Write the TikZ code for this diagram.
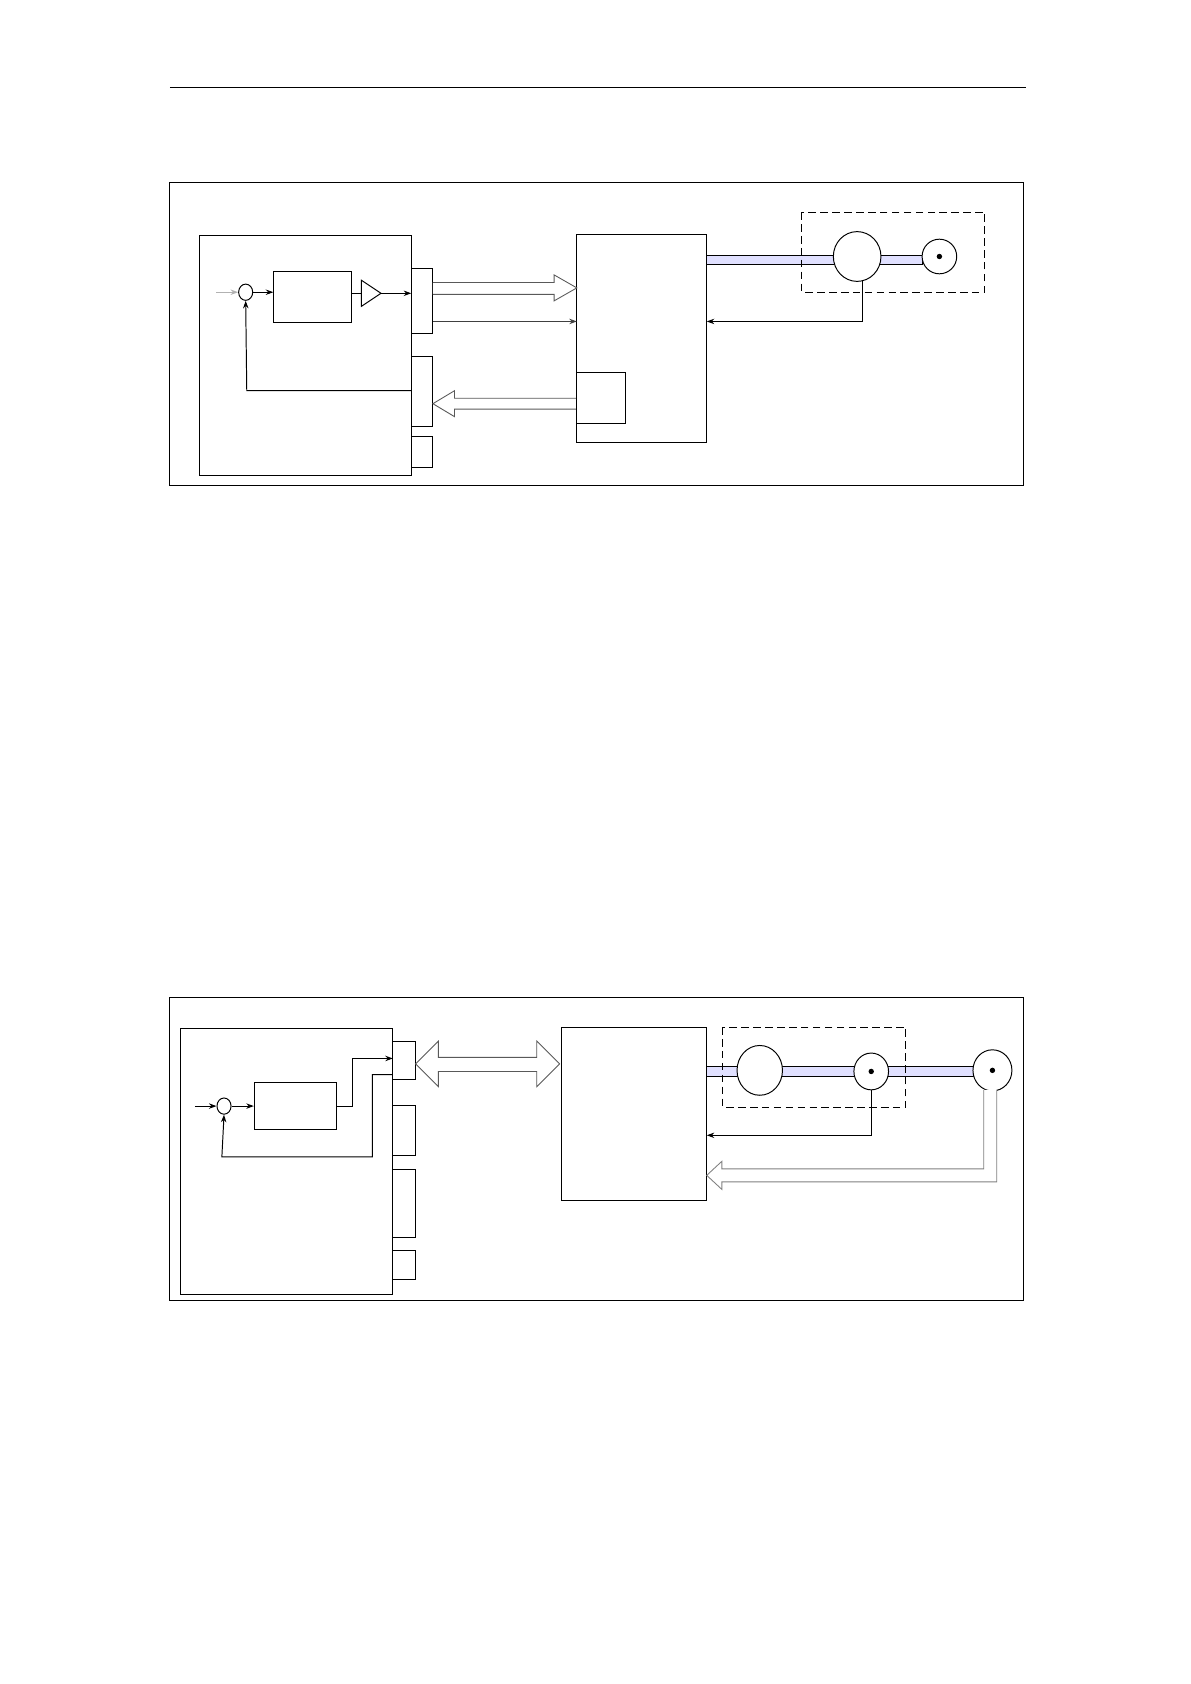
\documentclass[tikz,border=0pt]{standalone}
\usetikzlibrary{arrows.meta,calc,shapes.geometric}
\tikzset{
  blk/.style={draw,line width=0.9pt,inner sep=0pt},
  sig/.style={-{Stealth[length=7pt,width=5pt]},line width=0.9pt},
  shaft/.style={draw,fill=blue!12,line width=0.9pt},
  hollow/.style={draw=black!65,fill=white,line width=0.8pt},
  frm/.style={dash pattern=on 7pt off 4pt,line width=0.9pt},
}
\begin{document}
\begin{tikzpicture}[x=1pt,y=-1pt]
\useasboundingbox (0,0) rectangle (1100,1556);
\draw[line width=0.6pt] (157,81) -- (948,81);

% upper picture
\draw[line width=1pt] (157,169) rectangle (946,449);
\draw[blk] (184,218) rectangle (380,439);
\draw[blk] (380,248) rectangle (400,308);
\draw[blk] (380,329) rectangle (400,394);
\draw[blk] (380,403) rectangle (400,432);
\node[draw,ellipse,minimum width=13pt,minimum height=15pt,inner sep=0pt,line width=0.9pt] (sumA) at (227,270) {};
\node[blk,minimum width=72pt,minimum height=47pt] (ctrlA) at (289,274.5) {};
\draw[line width=0.9pt] (334,259) -- (352,271) -- (334,283) -- cycle;
\coordinate (ampA) at (352,271);
\draw[sig,black!30] (200,270) -- (sumA.west);
\draw[sig] (sumA.east) -- (ctrlA.west |- sumA.east);
\draw[line width=0.9pt] (325,271) -- (334,271);
\draw[sig] (ampA) -- (380,271);
\draw[sig] (380,361) -- (228,361) -- (sumA.south);
\node[blk,minimum width=120pt,minimum height=192pt] (driveA) at (593,313) {};
\draw[hollow] (400,261) -- (512,261) -- (512,254) -- (533,266) -- (512,278) -- (512,272) -- (400,272);
\draw[sig,black!75] (400,297) -- (533,297);
\draw[hollow] (533,368) -- (420,368) -- (420,361) -- (400,373) -- (420,385) -- (420,378) -- (533,378);
\draw[blk] (533,344) rectangle (578,391);
\draw[shaft] (653,236) rectangle (852,244);
\draw[frm] (741,196) rectangle (910,270);
\node[draw,fill=white,ellipse,minimum width=44pt,minimum height=46pt,inner sep=0pt,line width=0.9pt] (motA) at (792,237) {};
\node[draw,fill=white,circle,minimum size=32pt,inner sep=0pt,line width=0.9pt] (encA) at (868,237) {};
\fill (encA) circle (2.5);
\draw[sig] (797,259) -- (797,297) -- (653,297);

% lower picture
\draw[line width=1pt] (157,922) rectangle (946,1202);
\draw[blk] (167,950) rectangle (363,1196);
\draw[blk] (363,962) rectangle (384,997);
\draw[blk] (363,1021) rectangle (384,1068);
\draw[blk] (363,1081) rectangle (384,1143);
\draw[blk] (363,1155) rectangle (384,1182);
\node[draw,ellipse,minimum width=13pt,minimum height=15pt,inner sep=0pt,line width=0.9pt] (sumB) at (207,1022) {};
\node[blk,minimum width=76pt,minimum height=44pt] (ctrlB) at (273,1022) {};
\draw[sig] (180,1022) -- (sumB.west);
\draw[sig] (sumB.east) -- (ctrlB.west);
\draw[sig] (ctrlB.east) -- (326,1022) -- (326,978) -- (363,978);
\draw[sig] (363,993) -- (344,993) -- (344,1069) -- (205,1069) -- (sumB.south);
\draw[hollow] (384,983) -- (405,962) -- (405,977) -- (496,977) -- (496,962) -- (517,983)
  -- (496,1004) -- (496,990) -- (405,990) -- (405,1004) -- cycle;
\node[blk,minimum width=134pt,minimum height=160pt] (driveB) at (586,1029) {};
\draw[shaft] (653,985) rectangle (900,995);
\draw[frm] (668,949) rectangle (837,1023);
\node[draw,fill=white,ellipse,minimum width=42pt,minimum height=46pt,inner sep=0pt,line width=0.9pt] (motB) at (702,989) {};
\node[draw,fill=white,ellipse,minimum width=32pt,minimum height=34pt,inner sep=0pt,line width=0.9pt] (encB) at (805,990) {};
\fill (encB) circle (2.5);
\node[draw,fill=white,ellipse,minimum width=36pt,minimum height=38pt,inner sep=0pt,line width=0.9pt] (encC) at (917,989) {};
\fill (encC) circle (2.5);
\draw[sig] (encB.south) -- (805,1049) -- (653,1049);
\draw[draw=black!50,fill=white,line width=0.8pt] (909,1007) -- (909,1080) -- (667,1080) -- (667,1073)
  -- (653,1086) -- (667,1099) -- (667,1092) -- (921,1092) -- (921,1007);
\end{tikzpicture}
\end{document}
